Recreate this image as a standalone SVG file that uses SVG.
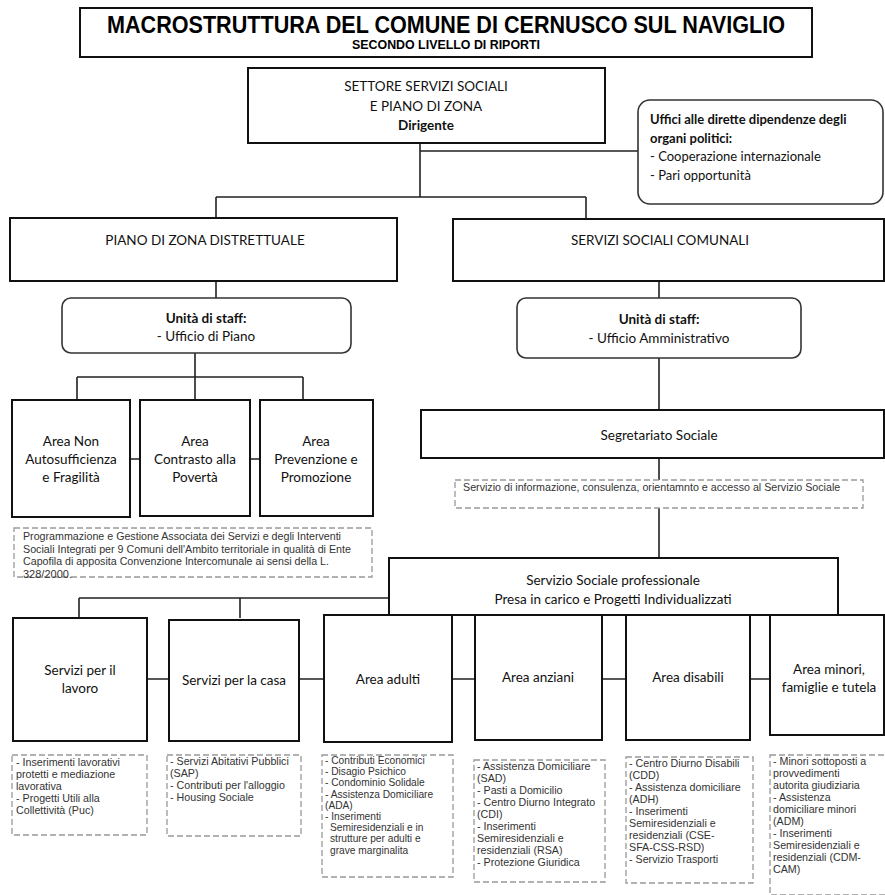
<svg xmlns="http://www.w3.org/2000/svg" width="885" height="895" viewBox="0 0 885 895">
<style>
.box{fill:#fff;stroke:#111;stroke-width:2}
.rbox{fill:#fff;stroke:#333;stroke-width:1.6}
.dash{fill:#fff;stroke:#999;stroke-width:1.3;stroke-dasharray:6 3}
.c{fill:none;stroke:#222;stroke-width:1.6}
.t{font-family:Lato,"Open Sans",sans-serif;font-size:13.5px;fill:#111;text-anchor:middle}
.tb{font-family:Lato,"Open Sans",sans-serif;font-size:13px;fill:#111;font-weight:bold}
.tl{font-family:Lato,"Open Sans",sans-serif;font-size:13px;fill:#111}
.s{font-family:"Liberation Sans",Arial,sans-serif;font-size:10.7px;fill:#333}
.sa{font-family:"Liberation Sans",Arial,sans-serif;font-size:10.2px;fill:#333}
.sl{font-family:"Liberation Sans",Arial,sans-serif;font-size:11px;fill:#333}
</style>
<rect width="885" height="895" fill="#fff"/>
<g id="connectors">
<path class="c" d="M420 143V197M216 197H586M216 197V218M586 197V219M420 151H638"/>
<path class="c" d="M216 281V298M195 353V400M77 377H303M77 377V400M303 377V400M130 459H140M250 459H260"/>
<path class="c" d="M659 281V298M659 358V410M659 458V480M659 508V558"/>
<path class="c" d="M79 598H389M79 598V618M240 598V618M147 679H169M299 679H324M452 679H475M602 679H626M750 679H770"/>
</g>
<g id="title">
<rect class="box" x="80" y="8" width="732" height="49"/>
<text x="446" y="33" font-family="'Liberation Sans',Arial,sans-serif" font-weight="bold" font-size="24" text-anchor="middle" textLength="678" lengthAdjust="spacingAndGlyphs">MACROSTRUTTURA DEL COMUNE DI CERNUSCO SUL NAVIGLIO</text>
<text x="446" y="49" font-family="'Liberation Sans',Arial,sans-serif" font-weight="bold" font-size="12" text-anchor="middle" textLength="188" lengthAdjust="spacingAndGlyphs">SECONDO LIVELLO DI RIPORTI</text>
</g>
<g id="settore">
<rect class="box" x="248" y="68" width="357" height="75"/>
<text class="t" x="426" y="91">SETTORE SERVIZI SOCIALI</text>
<text class="t" x="426" y="111">E PIANO DI ZONA</text>
<text class="t" x="426" y="130" font-weight="bold" font-size="12">Dirigente</text>
</g>
<g id="uffici">
<rect class="rbox" x="638" y="100" width="245" height="104" rx="12"/>
<text class="tb" x="650" y="124">Uffici alle dirette dipendenze degli</text>
<text class="tb" x="650" y="143">organi politici:</text>
<text class="tl" x="650" y="161">- Cooperazione internazionale</text>
<text class="tl" x="650" y="180">- Pari opportunità</text>
</g>
<g id="piano">
<rect class="box" x="10" y="218" width="387" height="63"/>
<text class="t" x="205" y="245">PIANO DI ZONA DISTRETTUALE</text>
</g>
<g id="servizi">
<rect class="box" x="453" y="219" width="431" height="62"/>
<text class="t" x="660" y="245">SERVIZI SOCIALI COMUNALI</text>
</g>
<g id="staff-piano">
<rect class="rbox" x="62" y="298" width="289" height="55" rx="9"/>
<text class="t" x="206" y="323" font-weight="bold">Unità di staff:</text>
<text class="t" x="206" y="341">- Ufficio di Piano</text>
</g>
<g id="staff-amm">
<rect class="rbox" x="517" y="298" width="284" height="60" rx="9"/>
<text class="t" x="659" y="324" font-weight="bold">Unità di staff:</text>
<text class="t" x="659" y="343">- Ufficio Amministrativo</text>
</g>
<g id="area-non-auto">
<rect class="box" x="12" y="400" width="118" height="117"/>
<text class="t" x="71" y="446">Area Non</text>
<text class="t" x="71" y="464">Autosufficienza</text>
<text class="t" x="71" y="482">e Fragilità</text>
</g>
<g id="area-contrasto">
<rect class="box" x="140" y="400" width="110" height="116"/>
<text class="t" x="195" y="446">Area</text>
<text class="t" x="195" y="464">Contrasto alla</text>
<text class="t" x="195" y="482">Povertà</text>
</g>
<g id="area-prevenzione">
<rect class="box" x="260" y="400" width="113" height="116"/>
<text class="t" x="316" y="446">Area</text>
<text class="t" x="316" y="464">Prevenzione e</text>
<text class="t" x="316" y="482">Promozione</text>
</g>
<g id="nota-piano">
<rect class="dash" x="14" y="528" width="358" height="49"/>
<text class="sl" x="23" y="540" textLength="318" lengthAdjust="spacingAndGlyphs">Programmazione e Gestione Associata dei Servizi e degli Interventi</text>
<text class="sl" x="23" y="552.6" textLength="328" lengthAdjust="spacingAndGlyphs">Sociali Integrati per 9 Comuni dell'Ambito territoriale in qualità di Ente</text>
<text class="sl" x="23" y="565.2" textLength="306" lengthAdjust="spacingAndGlyphs">Capofila di apposita Convenzione Intercomunale ai sensi della L.</text>
<text class="sl" x="23" y="577.8">328/2000.</text>
</g>
<g id="segretariato">
<rect class="box" x="421" y="410" width="463" height="48"/>
<text class="t" x="659" y="440">Segretariato Sociale</text>
</g>
<g id="nota-segretariato">
<rect class="dash" x="455" y="480" width="408" height="28"/>
<text class="s" x="463" y="491">Servizio di informazione, consulenza, orientamnto e accesso al Servizio Sociale</text>
</g>
<g id="servizio-professionale">
<rect class="box" x="389" y="558" width="449" height="57"/>
<text class="t" x="613" y="585">Servizio Sociale professionale</text>
<text class="t" x="613" y="604">Presa in carico e Progetti Individualizzati</text>
</g>
<g id="lavoro">
<rect class="box" x="13" y="618" width="134" height="123"/>
<text class="t" x="80" y="675">Servizi per il</text>
<text class="t" x="80" y="693">lavoro</text>
</g>
<g id="casa">
<rect class="box" x="169" y="620" width="130" height="121"/>
<text class="t" x="234" y="685">Servizi per la casa</text>
</g>
<g id="adulti">
<rect class="box" x="324" y="615" width="128" height="127"/>
<text class="t" x="388" y="684">Area adulti</text>
</g>
<g id="anziani">
<rect class="box" x="475" y="615" width="127" height="125"/>
<text class="t" x="538" y="682">Area anziani</text>
</g>
<g id="disabili">
<rect class="box" x="626" y="615" width="124" height="125"/>
<text class="t" x="688" y="682">Area disabili</text>
</g>
<g id="minori">
<rect class="box" x="770" y="615" width="114" height="120"/>
<text class="t" x="829" y="674">Area minori,</text>
<text class="t" x="829" y="692">famiglie e tutela</text>
</g>
<g id="nota-lavoro">
<rect class="dash" x="12" y="755" width="135" height="80"/>
<text class="s" x="16" y="766">- Inserimenti lavorativi</text>
<text class="s" x="16" y="778">protetti e mediazione</text>
<text class="s" x="16" y="790">lavorativa</text>
<text class="s" x="16" y="802">- Progetti Utili alla</text>
<text class="s" x="16" y="814">Collettività (Puc)</text>
</g>
<g id="nota-casa">
<rect class="dash" x="167" y="755" width="134" height="81"/>
<text class="s" x="170" y="765">- Servizi Abitativi Pubblici</text>
<text class="s" x="170" y="777">(SAP)</text>
<text class="s" x="170" y="789">- Contributi per l'alloggio</text>
<text class="s" x="170" y="801">- Housing Sociale</text>
</g>
<g id="nota-adulti">
<rect class="dash" x="322" y="755" width="131" height="122"/>
<text class="sa" x="325" y="764">- Contributi Economici</text>
<text class="sa" x="325" y="775.2">- Disagio Psichico</text>
<text class="sa" x="325" y="786.4">- Condominio Solidale</text>
<text class="sa" x="325" y="797.6">- Assistenza Domiciliare</text>
<text class="sa" x="325" y="808.8">(ADA)</text>
<text class="sa" x="325" y="820">- Inserimenti</text>
<text class="sa" x="330" y="831.2">Semiresidenziali e in</text>
<text class="sa" x="330" y="842.4">strutture per adulti e</text>
<text class="sa" x="330" y="853.6">grave marginalita</text>
</g>
<g id="nota-anziani">
<rect class="dash" x="474" y="760" width="131" height="122"/>
<text class="s" x="477" y="770">- Assistenza Domiciliare</text>
<text class="s" x="477" y="782">(SAD)</text>
<text class="s" x="477" y="794">- Pasti a Domicilio</text>
<text class="s" x="477" y="806">- Centro Diurno Integrato</text>
<text class="s" x="477" y="818">(CDI)</text>
<text class="s" x="477" y="830">- Inserimenti</text>
<text class="s" x="477" y="842">Semiresidenziali e</text>
<text class="s" x="477" y="854">residenziali (RSA)</text>
<text class="s" x="477" y="866">- Protezione Giuridica</text>
</g>
<g id="nota-disabili">
<rect class="dash" x="626" y="757" width="127" height="126"/>
<text class="s" x="629" y="767">- Centro Diurno Disabili</text>
<text class="s" x="629" y="779">(CDD)</text>
<text class="s" x="629" y="791">- Assistenza domiciliare</text>
<text class="s" x="629" y="803">(ADH)</text>
<text class="s" x="629" y="815">- Inserimenti</text>
<text class="s" x="629" y="827">Semiresidenziali e</text>
<text class="s" x="629" y="839">residenziali (CSE-</text>
<text class="s" x="629" y="851">SFA-CSS-RSD)</text>
<text class="s" x="629" y="863">- Servizio Trasporti</text>
</g>
<g id="nota-minori">
<rect class="dash" x="770" y="755" width="118" height="140"/>
<text class="s" x="773" y="765">- Minori sottoposti a</text>
<text class="s" x="773" y="777">provvedimenti</text>
<text class="s" x="773" y="789">autorita giudiziaria</text>
<text class="s" x="773" y="801">- Assistenza</text>
<text class="s" x="773" y="813">domiciliare minori</text>
<text class="s" x="773" y="825">(ADM)</text>
<text class="s" x="773" y="837">- Inserimenti</text>
<text class="s" x="773" y="849">Semiresidenziali e</text>
<text class="s" x="773" y="861">residenziali (CDM-</text>
<text class="s" x="773" y="873">CAM)</text>
</g>
</svg>
